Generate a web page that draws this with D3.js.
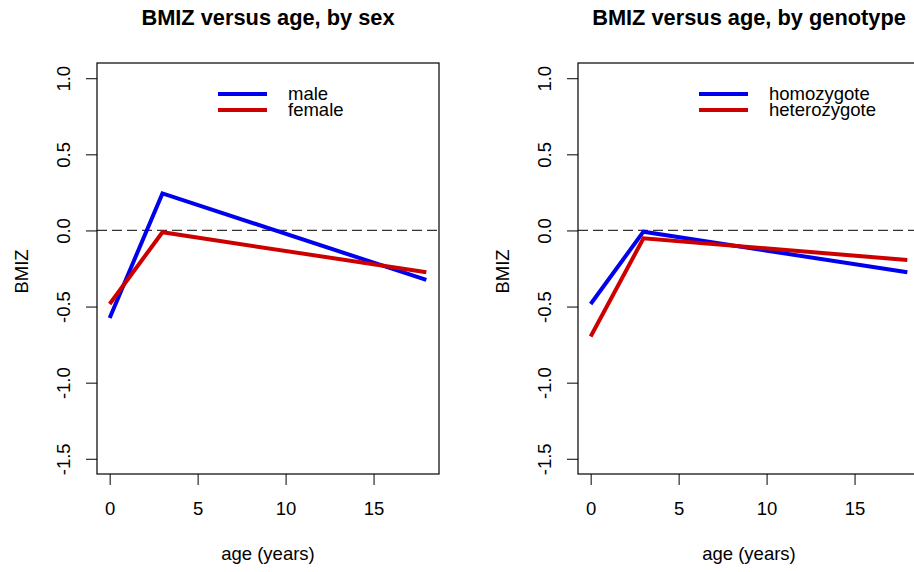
<!DOCTYPE html>
<html>
<head>
<meta charset="utf-8">
<script src="https://cdn.jsdelivr.net/npm/d3@7"></script>
<style>
  body { margin: 0; background: #fff; }
  text { font-family: "Liberation Sans", Arial, Helvetica, sans-serif; fill: #000; }
</style>
</head>
<body>
<div class="chart"></div>
<script>
// ages at which BMIZ was measured
const ages = [0, 3, 18]

// left panel: by sex
const maleBMIZ = [-0.575, 0.243, -0.325]
const femaleBMIZ = [-0.483, -0.012, -0.275]

// right panel: by genotype
const homozygoteBMIZ = [-0.483, -0.008, -0.275]
const heterozygoteBMIZ = [-0.697, -0.052, -0.194]

const xTicks = [0, 5, 10, 15]
const yTicks = [-1.5, -1.0, -0.5, 0, 0.5, 1.0]

const blue = '#0000ee'
const red = '#cd0000'

const W = 914
const H = 572
const panelOffset = 481

const margin = { top: 63, left: 97 }
const width = 342
const height = 411

const svg = d3.select('.chart')
  .append('svg')
    .attr('width', W)
    .attr('height', H)

// R style: 4% padding on both axes
const x = d3.scaleLinear()
  .domain([-0.72, 18.72])
  .range([0, width])
const y = d3.scaleLinear()
  .domain([-1.6, 1.1])
  .range([height, 0])

const line = d3.line()
  .x((d, i) => x(ages[i]))
  .y(d => y(d))

const drawPanel = (offset, title, series) => {
  const g = svg.append('g')
    .attr('transform', `translate(${offset + margin.left}, ${margin.top})`)

  // title
  svg.append('text')
    .attr('x', offset + margin.left + width / 2)
    .attr('y', 25)
    .attr('text-anchor', 'middle')
    .style('font-size', '21.8px')
    .style('font-weight', 'bold')
    .text(title)

  // x axis
  const xAxis = g.append('g')
    .attr('transform', `translate(0, ${height})`)
    .call(d3.axisBottom(x).tickValues(xTicks).tickSize(11).tickFormat(d => d))
  xAxis.select('.domain').remove()
  xAxis.selectAll('text')
    .attr('y', 41)
    .attr('dy', null)
    .style('font-size', '18.5px')

  // y axis, labels rotated like R's default las=0
  const yAxis = g.append('g')
    .call(d3.axisLeft(y).tickValues(yTicks).tickSize(11).tickFormat(d => d.toFixed(1)))
  yAxis.select('.domain').remove()
  yAxis.selectAll('text')
    .attr('x', 0)
    .attr('dy', null)
    .attr('text-anchor', 'middle')
    .attr('transform', 'translate(-27, 0) rotate(-90)')
    .style('font-size', '18.5px')
  g.selectAll('.tick line').attr('stroke', '#000')

  // axis titles
  svg.append('text')
    .attr('x', offset + margin.left + width / 2)
    .attr('y', 560)
    .attr('text-anchor', 'middle')
    .style('font-size', '18.5px')
    .text('age (years)')
  svg.append('text')
    .attr('transform', `translate(${offset + 28}, ${margin.top + height / 2 + 3}) rotate(-90)`)
    .attr('text-anchor', 'middle')
    .style('font-size', '18.5px')
    .text('BMIZ')

  // reference line at zero
  g.append('line')
    .attr('x1', 0)
    .attr('x2', width)
    .attr('y1', y(0))
    .attr('y2', y(0))
    .attr('stroke', '#333')
    .attr('stroke-width', 1.2)
    .attr('stroke-dasharray', '10,5')

  // series lines
  g.selectAll('path.series')
    .data(series)
    .enter()
    .append('path')
      .attr('class', 'series')
      .attr('d', d => line(d.values))
      .attr('fill', 'none')
      .attr('stroke', d => d.color)
      .attr('stroke-width', 4)
      .attr('stroke-linejoin', 'miter')

  // legend
  const legend = g.selectAll('g.legend')
    .data(series)
    .enter()
    .append('g')
      .attr('class', 'legend')
      .attr('transform', (d, i) => `translate(121, ${31 + i * 16})`)
  legend.append('line')
    .attr('x1', 0)
    .attr('x2', 49)
    .attr('stroke', d => d.color)
    .attr('stroke-width', 4)
  legend.append('text')
    .attr('x', 70)
    .attr('y', 6)
    .style('font-size', '18.5px')
    .text(d => d.name)

  // box
  g.append('rect')
    .attr('width', width)
    .attr('height', height)
    .attr('fill', 'none')
    .attr('stroke', '#000')
    .attr('stroke-width', 1.2)
}

drawPanel(0, 'BMIZ versus age, by sex', [
  { name: 'male', values: maleBMIZ, color: blue },
  { name: 'female', values: femaleBMIZ, color: red }
])

drawPanel(panelOffset, 'BMIZ versus age, by genotype', [
  { name: 'homozygote', values: homozygoteBMIZ, color: blue },
  { name: 'heterozygote', values: heterozygoteBMIZ, color: red }
])
</script>
</body>
</html>
